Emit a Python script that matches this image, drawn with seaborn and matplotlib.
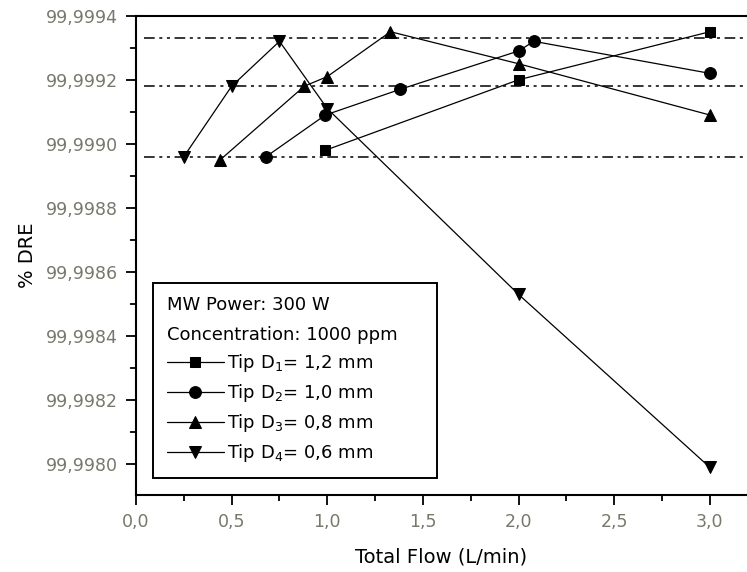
import matplotlib
matplotlib.use("Agg")
import matplotlib.pyplot as plt
import seaborn as sns
import pandas as pd
from matplotlib.ticker import FixedLocator, FixedFormatter, MultipleLocator

# ---------------- data ----------------
series_names = ["Tip D$_1$= 1,2 mm", "Tip D$_2$= 1,0 mm",
                "Tip D$_3$= 0,8 mm", "Tip D$_4$= 0,6 mm"]
d1_flow = [0.99, 2.0, 3.0]
d1_dre = [99.99898, 99.99920, 99.99935]
d2_flow = [0.68, 0.99, 1.38, 2.0, 2.08, 3.0]
d2_dre = [99.99896, 99.99909, 99.99917, 99.99929, 99.99932, 99.99922]
d3_flow = [0.44, 0.88, 1.0, 1.33, 2.0, 3.0]
d3_dre = [99.99895, 99.99918, 99.99921, 99.99935, 99.99925, 99.99909]
d4_flow = [0.25, 0.5, 0.75, 1.0, 2.0, 3.0]
d4_dre = [99.99896, 99.99918, 99.99932, 99.99911, 99.99853, 99.99799]
ref_levels = [99.99933, 99.99918, 99.99896]

x_ticks = [0.0, 0.5, 1.0, 1.5, 2.0, 2.5, 3.0]
x_ticklabels = ["0,0", "0,5", "1,0", "1,5", "2,0", "2,5", "3,0"]
y_ticks = [99.9980, 99.9982, 99.9984, 99.9986, 99.9988, 99.9990, 99.9992, 99.9994]
y_ticklabels = ["99,9980", "99,9982", "99,9984", "99,9986", "99,9988",
                "99,9990", "99,9992", "99,9994"]
legend_title = "MW Power: 300 W\nConcentration: 1000 ppm"

flows = [d1_flow, d2_flow, d3_flow, d4_flow]
dres = [d1_dre, d2_dre, d3_dre, d4_dre]
markers = ["s", "o", "^", "v"]
msizes = [7, 8.5, 8.5, 8.5]

sns.set_style("white")
plt.rcParams["font.family"] = ["DejaVu Sans"]
plt.rcParams["mathtext.fontset"] = "dejavusans"

fig = plt.figure(figsize=(7.47, 5.72), dpi=100)
ax = fig.add_axes([136 / 747, 77 / 572, 611 / 747, 479.3 / 572])

for lvl in ref_levels:
    ax.hlines(lvl, 0.04, 3.3, colors="black", linewidth=1.1,
              linestyles=(0, (7, 3, 2, 3, 2, 3)), zorder=1)

for name, fx, dy, mk, ms in zip(series_names, flows, dres, markers, msizes):
    df = pd.DataFrame({"flow": fx, "dre": dy})
    sns.lineplot(data=df, x="flow", y="dre", ax=ax, sort=False,
                 color="black", linewidth=0.9, marker=mk, markersize=ms,
                 markeredgecolor="black", markerfacecolor="black",
                 label=name, zorder=3)

ax.set_xlim(0, 611 / 191.3)
ax.set_ylim(99.997904, 99.9994)

ax.xaxis.set_major_locator(FixedLocator(x_ticks))
ax.xaxis.set_major_formatter(FixedFormatter(x_ticklabels))
ax.xaxis.set_minor_locator(MultipleLocator(0.25))
ax.yaxis.set_major_locator(FixedLocator(y_ticks))
ax.yaxis.set_major_formatter(FixedFormatter(y_ticklabels))
ax.yaxis.set_minor_locator(MultipleLocator(0.0001))

ax.tick_params(axis="both", which="major", direction="out", length=7,
               width=1.3, color="black", labelsize=12.5, labelcolor="#77776a",
               left=True, bottom=True, pad=6)
ax.tick_params(axis="both", which="minor", direction="out", length=4,
               width=1.3, color="black", left=True, bottom=True)

for side in ["left", "bottom", "top"]:
    ax.spines[side].set_visible(True)
    ax.spines[side].set_color("black")
    ax.spines[side].set_linewidth(1.5)
ax.spines["right"].set_visible(False)

ax.set_xlabel("Total Flow (L/min)", fontsize=14, color="black", labelpad=12)
ax.set_ylabel("% DRE", fontsize=14, color="black", labelpad=6)

leg = ax.legend(loc="lower left",
                bbox_to_anchor=(17 / 611, 17 / 479.3, 284 / 611, 0.3),
                mode="expand", borderaxespad=0, title=legend_title,
                alignment="left", fontsize=13, title_fontsize=13,
                frameon=True, fancybox=False, framealpha=1,
                edgecolor="black", handlelength=3.2, handletextpad=0.15,
                labelspacing=0.45, borderpad=0.75)
leg.get_frame().set_linewidth(1.4)
leg.get_title().set_color("black")
leg.get_title().set_linespacing(1.85)
for t in leg.get_texts():
    t.set_color("black")

fig.savefig("out.png", dpi=100, facecolor="white")
